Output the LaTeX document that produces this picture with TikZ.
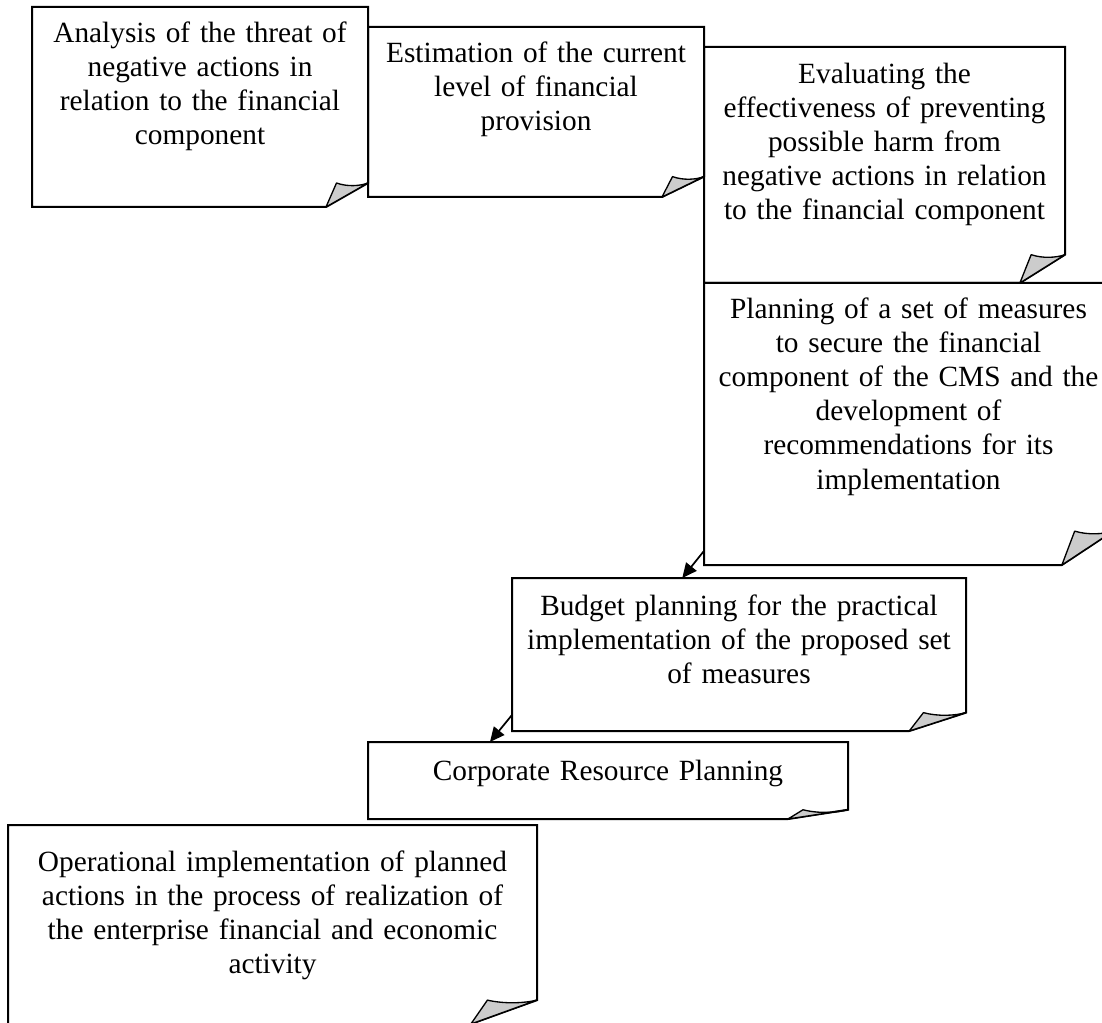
\documentclass[tikz,border=0pt]{standalone}
\usepackage{fontspec}
\setmainfont{Liberation Serif}
\usetikzlibrary{arrows.meta, positioning, calc}

\begin{document}
\begin{tikzpicture}[
    x=0.75pt, y=-0.75pt,
    note/.style={anchor=north west, inner sep=0pt, outer sep=0pt, align=center, font=\fontsize{22pt}{25.5pt}\selectfont},
    edge/.style={line width=1.5pt, line join=miter},
    curlfill/.style={draw, line width=1pt, fill=gray!40, line join=round},
    line/.style={-{Triangle[length=11pt, width=10pt]}, line width=1.3pt}
]
\useasboundingbox (0,0) rectangle (1102,1023);
\node[note, text width=252pt, text height=27pt, text depth=123pt] (analysis) at (32,7) {Analysis of the threat of\\negative actions in\\relation to the financial\\component};
\node[note, text width=252pt, text height=27pt, text depth=100.5pt] (estimation) at (368,27) {Estimation of the current\\level of financial\\provision};
\node[note, text width=270.75pt, text height=27.75pt, text depth=149.25pt] (evaluation) at (704,47) {Evaluating the\\effectiveness of preventing\\possible harm from\\negative actions in relation\\to the financial component};
\node[note, text width=306.75pt, text height=27pt, text depth=184.5pt] (measures) at (704,283) {Planning of a set of measures\\to secure the financial\\component of the CMS and the\\development of\\recommendations for its\\implementation};
\node[note, text width=340.5pt, text height=27.75pt, text depth=87pt] (budget) at (512,578) {Budget planning for the practical\\implementation of the proposed set\\of measures};
\node[note, text width=360pt, text height=28.5pt, text depth=29.25pt] (resources) at (368,742) {Corporate Resource Planning};
\node[note, text width=396.75pt, text height=34.5pt, text depth=114.75pt] (operations) at (8,825) {Operational implementation of planned\\actions in the process of realization of\\the enterprise financial and economic\\activity};
% sheets with a curled corner
\foreach \n in {analysis, estimation, evaluation, measures, budget, resources, operations} {
  \coordinate (a\n) at ($(\n.south east)!0.125!(\n.south west)$);
  \coordinate (c\n) at ($(\n.south east)!0.12!(\n.north east)$);
  \coordinate (b\n) at ($(c\n)!0.75!(c\n -| a\n)$);
  \draw[edge] (a\n) -- (\n.south west) -- (\n.north west) -- (\n.north east) -- (c\n) -- cycle;
  \filldraw[curlfill] (a\n) -- (b\n) .. controls ($(b\n)!0.35!(c\n)+(0,4)$) and ($(b\n)!0.75!(c\n)+(0,3)$) .. (c\n) -- cycle;
}
\draw[line] ($(measures.south west)!0.05!(measures.north west)$) -- ($(budget.north west)!0.375!(budget.north east)$);
\draw[line] ($(budget.south west)!0.105!(budget.north west)$) -- ($(resources.north west)!0.254!(resources.north east)$);
\end{tikzpicture}
\end{document}
